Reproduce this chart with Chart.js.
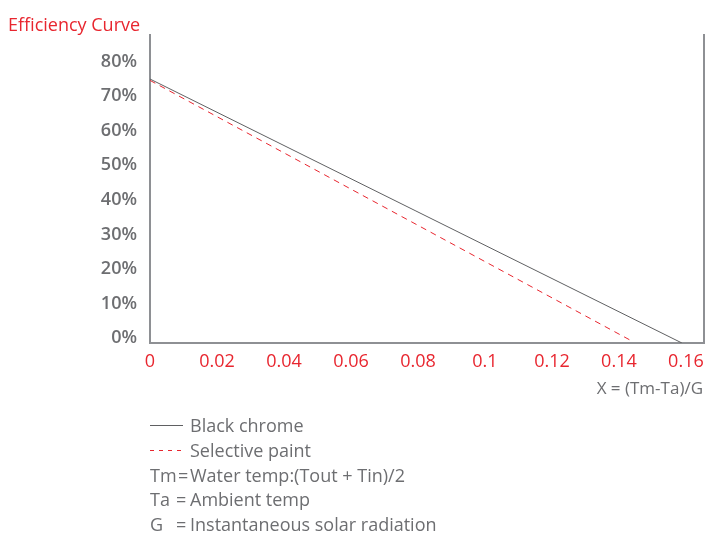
<!DOCTYPE html>
<html>
<head>
<meta charset="utf-8">
<script src="https://cdn.jsdelivr.net/npm/chart.js@4"></script>
<style>
  html, body { margin:0; padding:0; background:#fff; }
  body { width:707px; height:536px; position:relative; overflow:hidden; font-family:"Open Sans", sans-serif; }
  #wrap { position:absolute; left:0; top:0; width:707px; height:536px; }
  .txt { position:absolute; white-space:nowrap; color:#6d6e71; font-size:17px; line-height:20px; }
  #title { left:8px; top:14px; color:#e8262f; font-size:18px; }
  #xcap { right:4px; top:378px; font-size:17px; }
  .row { position:absolute; left:150px; width:400px; height:20px; font-size:18px; line-height:20px; color:#6d6e71; white-space:nowrap; }
  .row span { position:absolute; top:0; }
  .row .eq { left:26px; }
  .row .v { left:40px; }
  .sw { left:0; top:10px !important; width:33px; height:0; }
</style>
</head>
<body>
<div id="wrap"><canvas id="chart" width="707" height="536"></canvas></div>
<div id="title" class="txt">Efficiency Curve</div>
<div id="xcap" class="txt">X = (Tm-Ta)/G</div>
<div class="row" style="top:415px"><span class="sw" style="border-top:1px solid #5f6062"></span><span class="v">Black chrome</span></div>
<div class="row" style="top:440px"><span class="sw" style="height:1px;background:repeating-linear-gradient(to right,#e8262f 0 4px,transparent 4px 9px)"></span><span class="v">Selective paint</span></div>
<div class="row" style="top:465px"><span>Tm</span><span class="eq" style="left:28px">=</span><span class="v">Water temp:(Tout + Tin)/2</span></div>
<div class="row" style="top:489px"><span>Ta</span><span class="eq">=</span><span class="v">Ambient temp</span></div>
<div class="row" style="top:514px"><span>G</span><span class="eq">=</span><span class="v">Instantaneous solar radiation</span></div>
<script>
// values
const xTicks = [0, 0.02, 0.04, 0.06, 0.08, 0.1, 0.12, 0.14, 0.16];
const yTicks = [0, 10, 20, 30, 40, 50, 60, 70, 80];
const blackX = [0, 0.1588];
const blackY = [75, -1.45];
const paintX = [0, 0.1439];
const paintY = [74.6, -0.9];

const grey = '#6d6e71';
const red = '#e8262f';
const axisGrey = '#8e9094';

function pts(xs, ys){ return xs.map((x, i) => ({x, y: ys[i]})); }

const ctx = document.getElementById('chart').getContext('2d');
new Chart(ctx, {
  type: 'line',
  data: {
    datasets: [
      { label: 'Black chrome', data: pts(blackX, blackY), borderColor: '#5f6062', borderWidth: 1, pointRadius: 0, yAxisID: 'y' },
      { label: 'Selective paint', data: pts(paintX, paintY), borderColor: red, borderWidth: 1, borderDash: [6, 5], pointRadius: 0, yAxisID: 'y' }
    ]
  },
  options: {
    responsive: false,
    animation: false,
    layout: { padding: { left: 0, top: 35, right: 3, bottom: 153 } },
    plugins: { legend: { display: false }, tooltip: { enabled: false } },
    scales: {
      x: {
        type: 'linear', min: 0, max: 0.1654,
        afterBuildTicks: s => { s.ticks = xTicks.map(v => ({value: v})); },
        afterFit: s => { s.height = 40; },
        grid: { display: false },
        border: { display: true, color: axisGrey, width: 2 },
        ticks: { color: red, padding: 0, font: { family: 'Open Sans', size: 18 },
                 callback: v => String(Number(v.toFixed(2))) }
      },
      y: {
        type: 'linear', min: -1.45, max: 87.75,
        afterBuildTicks: s => { s.ticks = yTicks.map(v => ({value: v})); },
        afterFit: s => { s.width = 150; },
        grid: { display: false },
        border: { display: true, color: axisGrey, width: 2 },
        ticks: { color: grey, padding: 5, font: { family: 'Open Sans', size: 18, weight: '600' },
                 callback: v => v + '%' }
      },
      y2: {
        position: 'right', min: -1.45, max: 87.75,
        afterFit: s => { s.width = 0; },
        grid: { display: false },
        border: { display: true, color: axisGrey, width: 2 },
        ticks: { display: false }
      }
    }
  }
});
</script>
</body>
</html>
